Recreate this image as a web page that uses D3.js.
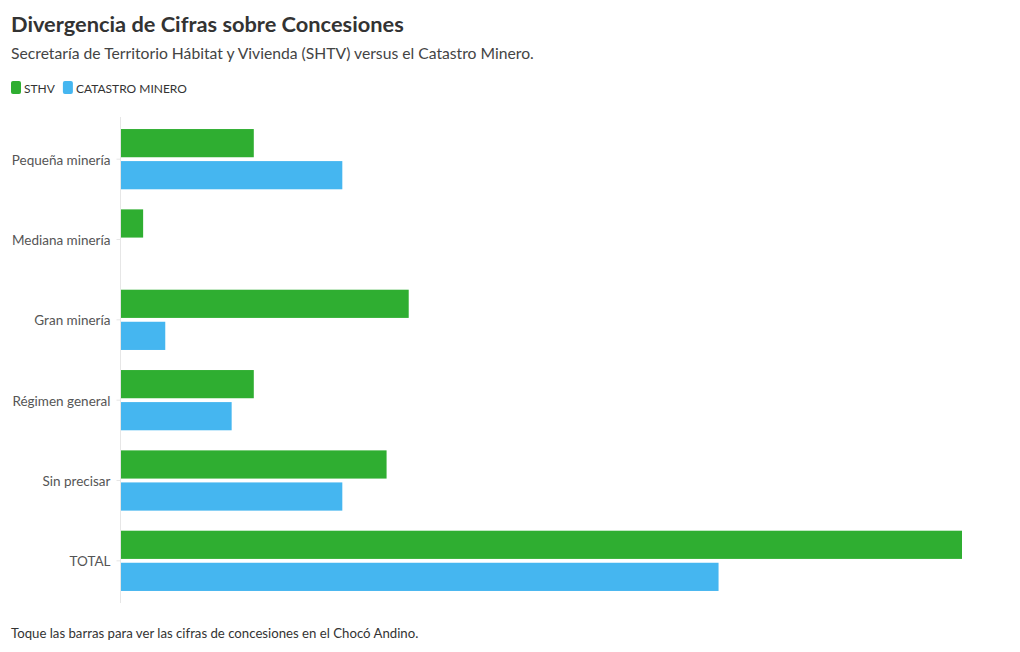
<!DOCTYPE html>
<html><head><meta charset="utf-8">
<script src="https://cdn.jsdelivr.net/npm/d3@7"></script>
<style>
body{margin:0;background:#fff;font-family:"Source Sans Pro",Lato,sans-serif;}
svg text{font-family:"Source Sans Pro",Lato,sans-serif;}
</style></head><body>
<svg id="c" width="1020" height="652"></svg>
<script>
const categories = ["Pequeña minería","Mediana minería","Gran minería","Régimen general","Sin precisar","TOTAL"];
const seriesNames = ["STHV","CATASTRO MINERO"];
const sthv = [6,1,13,6,12,38];
const catastro = [10,0,2,5,10,27];
const colors = ["#2fae31","#45b6f0"];

const svg = d3.select("#c");
svg.append("text").attr("x",11).attr("y",32).attr("font-size",21.8).attr("font-weight",700).attr("fill","#333")
  .text("Divergencia de Cifras sobre Concesiones");
svg.append("text").attr("x",11).attr("y",59).attr("font-size",15.7).attr("fill","#444")
  .text("Secretaría de Territorio Hábitat y Vivienda (SHTV) versus el Catastro Minero.");

// legend
const leg = svg.append("g");
let lx = 11;
seriesNames.forEach((n,i)=>{
  leg.append("rect").attr("x",lx).attr("y",81).attr("width",10).attr("height",13).attr("rx",2).attr("fill",colors[i]);
  const t = leg.append("text").attr("x",lx+13).attr("y",92.5).attr("font-size",12).attr("fill","#333").text(n);
  lx += 13 + t.node().getComputedTextLength() + 8;
});

const x = d3.scaleLinear().domain([0,38]).range([121,962]);
const y = d3.scaleBand().domain(categories).range([119,601]).paddingInner(0.25).paddingOuter(0.125);
const y1 = d3.scaleBand().domain(seriesNames).range([0,y.bandwidth()]).paddingInner(0.12);

// axis line
svg.append("line").attr("x1",120.5).attr("x2",120.5).attr("y1",117).attr("y2",603).attr("stroke","#e6e6e6");
const yAxis = svg.append("g").attr("transform","translate(120.5,0)")
  .call(d3.axisLeft(y).tickSize(4).tickPadding(6));
yAxis.select(".domain").remove();
yAxis.selectAll(".tick line").attr("stroke","#e6e6e6");
yAxis.selectAll(".tick text").attr("font-size",13.5).attr("fill","#555").attr("dy","0.4em");

const g = svg.append("g");
categories.forEach((c,i)=>{
  [sthv[i],catastro[i]].forEach((v,j)=>{
    if(v<=0) return;
    g.append("rect").attr("x",x(0)).attr("y",y(c)+y1(seriesNames[j]))
      .attr("width",x(v)-x(0)).attr("height",y1.bandwidth()).attr("fill",colors[j]);
  });
});

svg.append("text").attr("x",11).attr("y",638).attr("font-size",13.2).attr("fill","#333")
  .text("Toque las barras para ver las cifras de concesiones en el Chocó Andino.");
</script></body></html>
